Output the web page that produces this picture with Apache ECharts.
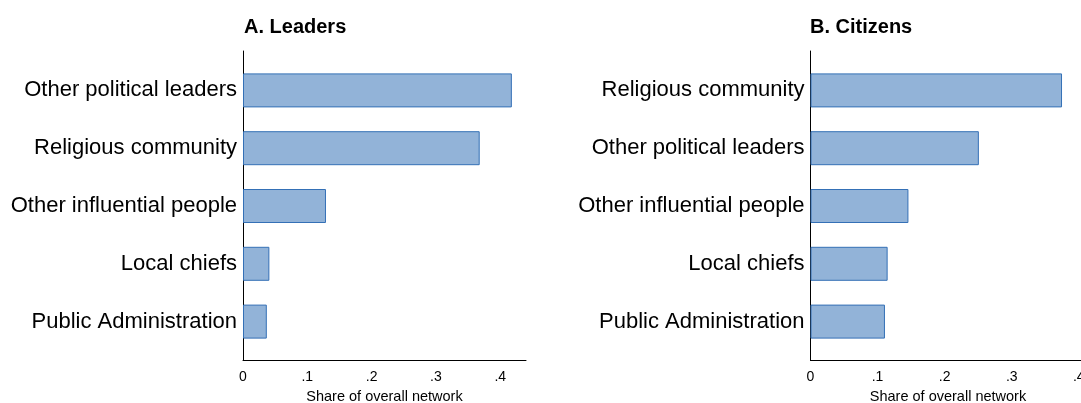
<!DOCTYPE html>
<html>
<head>
<meta charset="utf-8" />
<script src="https://cdn.jsdelivr.net/npm/echarts@6/dist/echarts.min.js"></script>
<style>
  html, body { margin: 0; padding: 0; background: #fff; }
  #chart { width: 1081px; height: 403px; }
</style>
</head>
<body>
<div id="chart"></div>
<script>
  // panel A
  var leaderCats = ['Other political leaders', 'Religious community', 'Other influential people', 'Local chiefs', 'Public Administration'];
  var leaderVals = [0.418, 0.368, 0.129, 0.041, 0.037];
  // panel B
  var citizenCats = ['Religious community', 'Other political leaders', 'Other influential people', 'Local chiefs', 'Public Administration'];
  var citizenVals = [0.375, 0.251, 0.146, 0.115, 0.111];

  var fontFam = 'Liberation Sans, Arial, Helvetica, sans-serif';

  function tickFmt(v) {
    if (v === 0) return '0';
    return String(Math.round(v * 10) / 10).replace('0.', '.');
  }

  // grids 0,1 hold the bars; grids 2,3 are the frames (axis lines + x labels)
  var panels = [
    { left: 243, width: 283, max: 0.44, cats: leaderCats, vals: leaderVals },
    { left: 810.5, width: 275, max: 0.41, cats: citizenCats, vals: citizenVals }
  ];

  var grids = [], xAxes = [], yAxes = [], series = [];
  panels.forEach(function (p, i) {
    grids[i] = { left: p.left, width: p.width, top: 61.5, height: 289, outerBoundsMode: 'none' };
    grids[i + 2] = { left: p.left, width: p.width, top: 51, height: 309.5, outerBoundsMode: 'none' };

    xAxes[i] = { gridIndex: i, type: 'value', min: 0, max: p.max, show: false };
    yAxes[i] = {
      gridIndex: i, type: 'category', data: p.cats, inverse: true,
      axisLine: { show: false }, axisTick: { show: false }, splitLine: { show: false },
      axisLabel: { margin: 6, padding: [4, 0, 0, 0], fontFamily: fontFam, fontSize: 22, color: '#000', interval: 0 }
    };

    xAxes[i + 2] = {
      gridIndex: i + 2, type: 'value', min: 0, max: p.max, interval: 0.1,
      name: 'Share of overall network', nameLocation: 'middle', nameGap: 29,
      nameTextStyle: { fontFamily: fontFam, fontSize: 14.5, color: '#000' },
      axisLine: { show: true, lineStyle: { color: '#000', width: 1 } },
      axisTick: { show: false }, splitLine: { show: false },
      axisLabel: { formatter: tickFmt, showMaxLabel: false, margin: 10,
        fontFamily: fontFam, fontSize: 14, color: '#000' }
    };
    yAxes[i + 2] = {
      gridIndex: i + 2, type: 'value', min: 0, max: 1,
      axisLine: { show: true, lineStyle: { color: '#000', width: 1 } },
      axisTick: { show: false }, axisLabel: { show: false }, splitLine: { show: false }
    };

    series.push({
      type: 'bar', xAxisIndex: i, yAxisIndex: i, data: p.vals, barWidth: 34,
      itemStyle: { color: '#92b3d8', borderColor: '#3470b6', borderWidth: 1 },
      silent: true
    });
  });

  var chart = echarts.init(document.getElementById('chart'));
  chart.setOption({
    backgroundColor: '#fff',
    animation: false,
    title: [
      { text: 'A. Leaders', left: 244, top: 17, padding: 0,
        textStyle: { fontFamily: fontFam, fontSize: 20, fontWeight: 'bold', color: '#000' } },
      { text: 'B. Citizens', left: 810, top: 17, padding: 0,
        textStyle: { fontFamily: fontFam, fontSize: 20, fontWeight: 'bold', color: '#000' } }
    ],
    grid: grids,
    xAxis: xAxes,
    yAxis: yAxes,
    series: series
  });
</script>
</body>
</html>
